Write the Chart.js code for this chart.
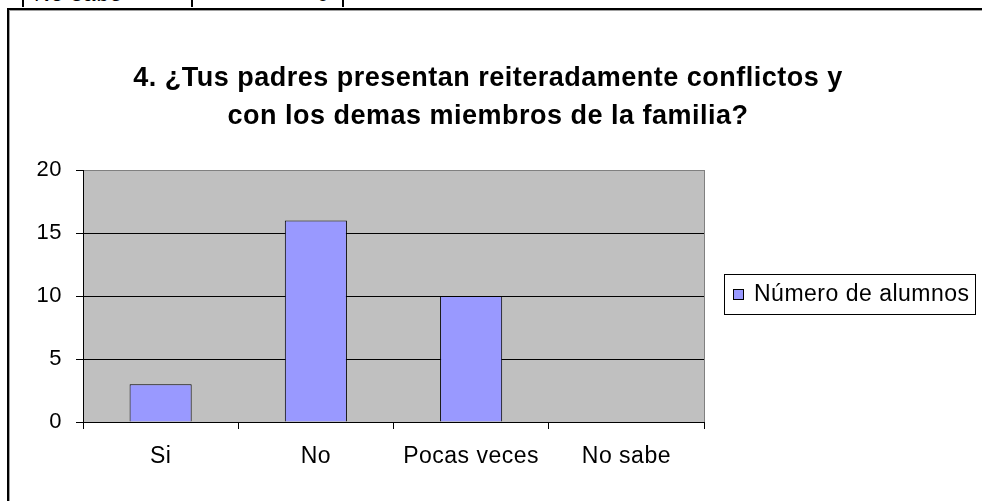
<!DOCTYPE html>
<html>
<head>
<meta charset="utf-8">
<script src="https://cdn.jsdelivr.net/npm/chart.js@4/dist/chart.umd.min.js"></script>
<style>
  body { margin: 0; background: #fff; width: 982px; height: 501px; overflow: hidden; position: relative; font-family: "Liberation Sans", Arial, sans-serif; }
  #sheet { position: absolute; left: 0; top: 0; width: 982px; height: 7px; overflow: hidden; }
  #sheet .cell { position: absolute; top: -16px; height: 22px; font-size: 22px; line-height: 20px; letter-spacing: 1px; color: #000; }
  #sheet .vline { position: absolute; top: 0; width: 2px; height: 7px; background: #000; }
  #frame { position: absolute; left: 7px; top: 8px; width: 1000px; height: 520px; border-left: 2px solid #000; border-top: 2px solid #000; }
  #frame::before { content: ""; position: absolute; left: 0; top: 0; right: 0; bottom: 0; border-left: 1px solid #a0a0a0; border-top: 1px solid #a0a0a0; }
  #wrap { position: absolute; left: 0; top: 0; width: 982px; height: 501px; }
</style>
</head>
<body>
<div id="sheet">
  <div class="vline" style="left:22px"></div>
  <div class="cell" style="left:34px">No sabe</div>
  <div class="vline" style="left:191px"></div>
  <div class="cell" style="left:200px;width:130px;text-align:right">0</div>
  <div class="vline" style="left:342px"></div>
</div>
<div id="frame"></div>
<div id="wrap"><canvas id="chart" width="982" height="501"></canvas></div>
<script>
// datos de la grafica
const categories = ['Si', 'No', 'Pocas veces', 'No sabe'];
const alumnos = [3, 16, 10, 0];
const yTicks = [0, 5, 10, 15, 20];
const seriesLabel = 'Número de alumnos';
const titleLines = ['4. ¿Tus padres presentan reiteradamente conflictos y', 'con los demas miembros de la familia?'];

const FONT = '"Liberation Sans", Arial, sans-serif';
const BAR_COLOR = '#9999ff';

// fondo gris del area de trazado y borde derecho
const plotArea = {
    id: 'plotArea',
    beforeDraw(chart) {
        const a = chart.chartArea;
        const ctx = chart.ctx;
        ctx.letterSpacing = '0.5px'; // el texto de Excel sale mas ancho
        ctx.save();
        ctx.fillStyle = '#c0c0c0';
        ctx.fillRect(a.left, a.top, a.right - a.left, a.bottom - a.top);
        ctx.restore();
    },
    afterDraw(chart) {
        const a = chart.chartArea;
        const ctx = chart.ctx;
        ctx.save();
        ctx.strokeStyle = '#808080';
        ctx.lineWidth = 1;
        ctx.beginPath();
        ctx.moveTo(Math.round(a.right) + 0.5, a.top);
        ctx.lineTo(Math.round(a.right) + 0.5, a.bottom);
        ctx.stroke();
        ctx.restore();
    }
};

// titulo en dos lineas
const titlePlugin = {
    id: 'titlePlugin',
    afterDraw(chart) {
        const ctx = chart.ctx;
        ctx.save();
        ctx.font = 'bold 27px ' + FONT;
        ctx.letterSpacing = '0.5px';
        ctx.fillStyle = '#000';
        ctx.textAlign = 'center';
        ctx.textBaseline = 'middle';
        ctx.fillText(titleLines[0], 488, 79);
        ctx.fillText(titleLines[1], 488, 117);
        ctx.restore();
    }
};

// leyenda con recuadro
const legendBox = {
    id: 'legendBox',
    afterDraw(chart) {
        const ctx = chart.ctx;
        ctx.save();
        ctx.fillStyle = '#fff';
        ctx.fillRect(724, 274, 251, 40);
        ctx.strokeStyle = '#000';
        ctx.lineWidth = 1;
        ctx.strokeRect(724.5, 274.5, 251, 40);
        ctx.fillStyle = BAR_COLOR;
        ctx.fillRect(733, 289, 10, 10);
        ctx.strokeRect(733.5, 289.5, 10, 10);
        ctx.fillStyle = '#000';
        ctx.font = '23px ' + FONT;
        ctx.letterSpacing = '0.5px';
        ctx.textAlign = 'left';
        ctx.textBaseline = 'middle';
        ctx.fillText(chart.data.datasets[0].label, 754, 295);
        ctx.restore();
    }
};

new Chart(document.getElementById('chart'), {
    type: 'bar',
    data: {
        labels: categories,
        datasets: [{
            label: seriesLabel,
            data: alumnos,
            backgroundColor: BAR_COLOR,
            borderColor: '#000',
            borderWidth: 1,
            categoryPercentage: 1,
            barPercentage: 0.4
        }]
    },
    options: {
        responsive: false,
        animation: false,
        layout: { padding: { top: 170, right: 278, bottom: 0, left: 0 } },
        plugins: {
            legend: { display: false },
            title: { display: false },
            tooltip: { enabled: false }
        },
        scales: {
            x: {
                afterFit(s) { s.height = 79; },
                grid: { drawOnChartArea: false, drawTicks: true, tickLength: 7, color: '#000', offset: true },
                border: { color: '#000', width: 1 },
                ticks: { color: '#000', font: { family: FONT, size: 23 }, padding: 14, maxRotation: 0 }
            },
            y: {
                min: yTicks[0],
                max: yTicks[yTicks.length - 1],
                afterFit(s) { s.width = 83; },
                afterBuildTicks(s) { s.ticks = yTicks.map(v => ({ value: v })); },
                grid: {
                    color: ctx => (ctx.tick && ctx.tick.value === 20 ? '#808080' : '#000'),
                    tickColor: '#000',
                    tickLength: 7
                },
                border: { color: '#000', width: 1 },
                ticks: { color: '#000', font: { family: FONT, size: 22 }, padding: 14 }
            }
        }
    },
    plugins: [plotArea, titlePlugin, legendBox]
});
</script>
</body>
</html>
